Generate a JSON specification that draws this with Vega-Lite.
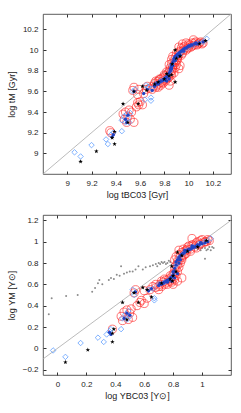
{
  "$schema": "https://vega.github.io/schema/vega-lite/v6.json",
  "padding": {"left": 6, "top": 13, "right": 5, "bottom": 5},
  "spacing": 14,
  "config": {
    "view": {"stroke": "#333", "strokeWidth": 0.8},
    "axis": {"domain": false, "grid": false, "labelFont": "Liberation Sans", "titleFont": "Liberation Sans", "labelFontSize": 8, "titleFontSize": 9, "titleFontWeight": "normal", "tickColor": "#333", "tickSize": -3, "labelPadding": 8, "labelColor": "#222", "titleColor": "#222"}
  },
  "datasets": {
    "t_red": [
      {"x":9.35,"y":9.22},{"x":9.36,"y":9.20},{"x":9.46,"y":9.38},{"x":9.48,"y":9.40},{"x":9.50,"y":9.36},{"x":9.52,"y":9.33},{"x":9.55,"y":9.30},{"x":9.47,"y":9.33},{"x":9.49,"y":9.30},{"x":9.53,"y":9.40},{"x":9.51,"y":9.42},
      {"x":9.57,"y":9.45},{"x":9.59,"y":9.47},{"x":9.60,"y":9.50},{"x":9.62,"y":9.47},{"x":9.58,"y":9.49},
      {"x":9.55,"y":9.64},{"x":9.54,"y":9.61},{"x":9.59,"y":9.62},{"x":9.58,"y":9.57},{"x":9.63,"y":9.58},{"x":9.65,"y":9.62},{"x":9.66,"y":9.65},{"x":9.68,"y":9.63},{"x":9.70,"y":9.62},{"x":9.71,"y":9.65},{"x":9.73,"y":9.64},
      {"x":9.72,"y":9.68},{"x":9.74,"y":9.66},{"x":9.75,"y":9.70},{"x":9.76,"y":9.68},{"x":9.77,"y":9.72},{"x":9.78,"y":9.69},{"x":9.79,"y":9.73},{"x":9.80,"y":9.71},{"x":9.81,"y":9.75},{"x":9.82,"y":9.72},{"x":9.83,"y":9.77},{"x":9.84,"y":9.74},{"x":9.85,"y":9.70},{"x":9.86,"y":9.76},{"x":9.84,"y":9.80},{"x":9.85,"y":9.83},{"x":9.87,"y":9.82},{"x":9.88,"y":9.78},{"x":9.89,"y":9.83},{"x":9.90,"y":9.86},{"x":9.86,"y":9.87},{"x":9.88,"y":9.90},{"x":9.87,"y":9.94},{"x":9.89,"y":9.93},{"x":9.91,"y":9.91},{"x":9.90,"y":9.97},{"x":9.92,"y":9.95},{"x":9.93,"y":9.99},{"x":9.95,"y":9.97},{"x":9.94,"y":10.02},{"x":9.96,"y":10.00},{"x":9.97,"y":10.04},{"x":9.99,"y":10.02},{"x":10.00,"y":10.06},{"x":10.02,"y":10.03},{"x":10.03,"y":10.07},{"x":10.05,"y":10.05},{"x":10.06,"y":10.08},{"x":10.08,"y":10.06},{"x":10.10,"y":10.08},{"x":10.04,"y":10.10},{"x":9.98,"y":10.07},{"x":9.92,"y":10.03},{"x":9.95,"y":10.06},{"x":10.12,"y":10.07},{"x":9.92,"y":9.82},{"x":9.93,"y":9.85},{"x":9.84,"y":9.66},
      {"x":9.73,"y":9.70},{"x":9.76,"y":9.72},{"x":9.79,"y":9.68},{"x":9.81,"y":9.70},{"x":9.83,"y":9.73},{"x":9.85,"y":9.77},{"x":9.86,"y":9.80},{"x":9.87,"y":9.84},{"x":9.88,"y":9.86},{"x":9.89,"y":9.88},{"x":9.90,"y":9.90},{"x":9.91,"y":9.93},{"x":9.92,"y":9.98},{"x":9.94,"y":9.95},{"x":9.96,"y":10.03},{"x":9.98,"y":10.00},{"x":10.00,"y":10.02},{"x":10.01,"y":10.05},{"x":10.03,"y":10.04},{"x":10.05,"y":10.07},{"x":10.07,"y":10.05},{"x":10.09,"y":10.07},{"x":10.11,"y":10.06},{"x":9.86,"y":9.91},{"x":9.84,"y":9.86},{"x":9.82,"y":9.79},{"x":9.80,"y":9.76},{"x":9.77,"y":9.66},{"x":9.75,"y":9.64}
    ],
    "t_dia": [
      {"x":9.06,"y":9.01},{"x":9.11,"y":8.97},{"x":9.20,"y":9.08},{"x":9.32,"y":9.135},{"x":9.335,"y":9.09},{"x":9.36,"y":9.18},{"x":9.38,"y":9.20},{"x":9.45,"y":9.215},{"x":9.45,"y":9.32},{"x":9.47,"y":9.36},{"x":9.49,"y":9.38},{"x":9.50,"y":9.34},{"x":9.51,"y":9.30},{"x":9.48,"y":9.30},{"x":9.52,"y":9.39},{"x":9.54,"y":9.60},{"x":9.56,"y":9.62},{"x":9.64,"y":9.52},{"x":9.69,"y":9.54},{"x":9.69,"y":9.51},{"x":9.65,"y":9.66},{"x":9.67,"y":9.64},{"x":9.70,"y":9.63},{"x":9.73,"y":9.67},
      {"x":9.77,"y":9.70},{"x":9.80,"y":9.72},{"x":9.83,"y":9.75},{"x":9.85,"y":9.80},{"x":9.86,"y":9.85},{"x":9.88,"y":9.90},{"x":9.90,"y":9.94},{"x":9.93,"y":9.97},{"x":9.96,"y":10.00},{"x":10.00,"y":10.03},{"x":10.04,"y":10.05},{"x":10.08,"y":10.07},{"x":10.12,"y":10.08},{"x":10.15,"y":10.11}
    ],
    "t_dot": [
      {"x":9.38,"y":9.18},{"x":9.37,"y":9.16},{"x":9.48,"y":9.33},{"x":9.50,"y":9.37},{"x":9.49,"y":9.30},{"x":9.55,"y":9.60},{"x":9.63,"y":9.58},{"x":9.66,"y":9.62},{"x":9.70,"y":9.61},{"x":9.72,"y":9.65},{"x":9.73,"y":9.67},{"x":9.74,"y":9.68},{"x":9.76,"y":9.69},{"x":9.77,"y":9.70},{"x":9.78,"y":9.70},{"x":9.79,"y":9.71},{"x":9.80,"y":9.72},{"x":9.81,"y":9.73},{"x":9.82,"y":9.74},{"x":9.83,"y":9.76},{"x":9.84,"y":9.78},{"x":9.85,"y":9.80},{"x":9.85,"y":9.82},{"x":9.86,"y":9.84},{"x":9.86,"y":9.86},{"x":9.87,"y":9.88},{"x":9.88,"y":9.90},{"x":9.88,"y":9.92},{"x":9.89,"y":9.94},{"x":9.90,"y":9.95},{"x":9.91,"y":9.96},{"x":9.92,"y":9.97},{"x":9.93,"y":9.98},{"x":9.94,"y":9.99},{"x":9.95,"y":10.00},{"x":9.96,"y":10.01},{"x":9.97,"y":10.02},{"x":9.98,"y":10.02},{"x":9.99,"y":10.03},{"x":10.00,"y":10.04},{"x":10.01,"y":10.04},{"x":10.03,"y":10.05},{"x":10.05,"y":10.06},{"x":10.07,"y":10.06},{"x":10.09,"y":10.07},{"x":10.12,"y":10.08},{"x":9.82,"y":9.70},{"x":9.84,"y":9.72},{"x":9.87,"y":9.85},{"x":9.89,"y":9.90},{"x":9.93,"y":9.95},{"x":9.75,"y":9.67},{"x":9.81,"y":9.71},{"x":9.86,"y":9.82},{"x":9.91,"y":9.94},{"x":9.96,"y":9.99},{"x":10.02,"y":10.05},{"x":10.06,"y":10.07}
    ],
    "t_star": [
      {"x":9.11,"y":8.92},{"x":9.24,"y":9.02},{"x":9.39,"y":9.09},{"x":9.37,"y":9.15},{"x":9.39,"y":9.21},{"x":9.46,"y":9.48},{"x":9.585,"y":9.48},{"x":9.62,"y":9.65},{"x":9.655,"y":9.61},{"x":9.55,"y":9.60},{"x":9.50,"y":9.30},{"x":9.75,"y":9.69},{"x":9.89,"y":10.0},{"x":9.865,"y":9.865},{"x":9.89,"y":9.69},{"x":9.82,"y":9.77},{"x":9.84,"y":9.75},{"x":9.86,"y":9.76},{"x":9.90,"y":9.92},{"x":9.93,"y":9.94},{"x":10.09,"y":10.06},{"x":10.14,"y":10.09},{"x":9.72,"y":9.67},{"x":9.80,"y":9.72}
    ],
    "b_red": [
      {"x":0.38,"y":0.18},{"x":0.44,"y":0.30},{"x":0.46,"y":0.34},{"x":0.48,"y":0.36},{"x":0.50,"y":0.33},{"x":0.49,"y":0.27},{"x":0.52,"y":0.29},{"x":0.45,"y":0.26},{"x":0.51,"y":0.37},
      {"x":0.54,"y":0.55},{"x":0.53,"y":0.52},{"x":0.55,"y":0.40},{"x":0.57,"y":0.43},{"x":0.58,"y":0.45},{"x":0.60,"y":0.42},{"x":0.62,"y":0.47},{"x":0.64,"y":0.55},{"x":0.60,"y":0.54},{"x":0.66,"y":0.58},{"x":0.68,"y":0.57},{"x":0.70,"y":0.55},{"x":0.71,"y":0.60},{"x":0.72,"y":0.58},{"x":0.73,"y":0.62},{"x":0.74,"y":0.60},{"x":0.75,"y":0.64},{"x":0.76,"y":0.62},{"x":0.77,"y":0.65},{"x":0.78,"y":0.63},{"x":0.79,"y":0.67},{"x":0.80,"y":0.60},{"x":0.81,"y":0.64},{"x":0.80,"y":0.70},{"x":0.82,"y":0.68},{"x":0.81,"y":0.74},{"x":0.83,"y":0.72},{"x":0.82,"y":0.78},{"x":0.84,"y":0.76},{"x":0.83,"y":0.82},{"x":0.85,"y":0.80},{"x":0.82,"y":0.86},{"x":0.84,"y":0.88},{"x":0.86,"y":0.85},{"x":0.86,"y":0.90},{"x":0.88,"y":0.88},{"x":0.87,"y":0.93},{"x":0.89,"y":0.92},{"x":0.90,"y":0.95},{"x":0.92,"y":0.93},{"x":0.93,"y":0.97},{"x":0.95,"y":0.95},{"x":0.96,"y":0.99},{"x":0.98,"y":0.97},{"x":0.99,"y":1.01},{"x":1.01,"y":0.99},{"x":1.03,"y":1.00},{"x":1.05,"y":1.01},{"x":0.83,"y":0.63},{"x":0.86,"y":0.66},{"x":0.93,"y":1.03},
      {"x":0.72,"y":0.63},{"x":0.74,"y":0.65},{"x":0.76,"y":0.60},{"x":0.78,"y":0.68},{"x":0.79,"y":0.62},{"x":0.80,"y":0.65},{"x":0.81,"y":0.70},{"x":0.82,"y":0.74},{"x":0.83,"y":0.78},{"x":0.84,"y":0.82},{"x":0.85,"y":0.86},{"x":0.86,"y":0.83},{"x":0.87,"y":0.87},{"x":0.88,"y":0.91},{"x":0.89,"y":0.89},{"x":0.90,"y":0.93},{"x":0.91,"y":0.96},{"x":0.92,"y":0.91},{"x":0.94,"y":0.97},{"x":0.96,"y":0.94},{"x":0.97,"y":1.00},{"x":0.99,"y":0.98},{"x":1.00,"y":1.02},{"x":1.02,"y":1.00},{"x":1.04,"y":1.02},{"x":0.81,"y":0.83},{"x":0.84,"y":0.92},{"x":0.70,"y":0.58},{"x":0.68,"y":0.60}
    ],
    "b_dia": [
      {"x":-0.03,"y":-0.02},{"x":0.055,"y":-0.08},{"x":0.16,"y":0.05},{"x":0.28,"y":0.10},{"x":0.32,"y":0.06},{"x":0.34,"y":0.13},{"x":0.37,"y":0.18},{"x":0.36,"y":0.16},{"x":0.44,"y":0.18},{"x":0.45,"y":0.28},{"x":0.47,"y":0.32},{"x":0.49,"y":0.35},{"x":0.50,"y":0.30},{"x":0.48,"y":0.27},{"x":0.52,"y":0.55},{"x":0.53,"y":0.50},{"x":0.63,"y":0.55},{"x":0.66,"y":0.56},{"x":0.67,"y":0.45},{"x":0.67,"y":0.47},{"x":0.70,"y":0.60},{"x":0.74,"y":0.62},{"x":0.78,"y":0.65},{"x":0.80,"y":0.70},{"x":0.82,"y":0.78},{"x":0.84,"y":0.85},{"x":0.87,"y":0.89},{"x":0.90,"y":0.92},{"x":0.94,"y":0.95},{"x":0.98,"y":0.98},{"x":1.02,"y":1.00},{"x":1.06,"y":1.03}
    ],
    "b_dot": [
      {"x":0.36,"y":0.15},{"x":0.37,"y":0.13},{"x":0.46,"y":0.28},{"x":0.48,"y":0.33},{"x":0.50,"y":0.31},{"x":0.54,"y":0.53},{"x":0.63,"y":0.54},{"x":0.65,"y":0.56},{"x":0.70,"y":0.59},{"x":0.71,"y":0.61},{"x":0.72,"y":0.60},{"x":0.73,"y":0.61},{"x":0.74,"y":0.62},{"x":0.75,"y":0.63},{"x":0.76,"y":0.64},{"x":0.77,"y":0.64},{"x":0.78,"y":0.66},{"x":0.79,"y":0.67},{"x":0.80,"y":0.69},{"x":0.80,"y":0.72},{"x":0.81,"y":0.75},{"x":0.82,"y":0.78},{"x":0.82,"y":0.81},{"x":0.83,"y":0.83},{"x":0.84,"y":0.85},{"x":0.85,"y":0.87},{"x":0.86,"y":0.88},{"x":0.87,"y":0.89},{"x":0.88,"y":0.90},{"x":0.89,"y":0.91},{"x":0.90,"y":0.92},{"x":0.91,"y":0.93},{"x":0.92,"y":0.93},{"x":0.93,"y":0.94},{"x":0.94,"y":0.95},{"x":0.95,"y":0.95},{"x":0.96,"y":0.96},{"x":0.97,"y":0.97},{"x":0.98,"y":0.97},{"x":1.00,"y":0.98},{"x":1.02,"y":0.99},{"x":1.04,"y":1.00},{"x":0.79,"y":0.63},{"x":0.81,"y":0.66},{"x":0.83,"y":0.70},{"x":0.85,"y":0.83},{"x":0.76,"y":0.62},{"x":0.81,"y":0.72},{"x":0.84,"y":0.80},{"x":0.88,"y":0.92},{"x":0.93,"y":0.96},{"x":0.99,"y":0.99}
    ],
    "b_star": [
      {"x":0.055,"y":-0.13},{"x":0.21,"y":-0.015},{"x":0.38,"y":0.14},{"x":0.38,"y":0.06},{"x":0.39,"y":0.18},{"x":0.45,"y":0.43},{"x":0.56,"y":0.43},{"x":0.59,"y":0.57},{"x":0.62,"y":0.55},{"x":0.53,"y":0.52},{"x":0.65,"y":0.48},{"x":0.83,"y":0.90},{"x":0.79,"y":0.77},{"x":0.795,"y":0.63},{"x":0.97,"y":0.95},{"x":1.03,"y":1.01},{"x":0.48,"y":0.27},{"x":0.72,"y":0.61},{"x":0.80,"y":0.68},{"x":0.82,"y":0.72},{"x":0.86,"y":0.87},{"x":0.90,"y":0.91},{"x":0.78,"y":0.65}
    ],
    "b_gray": [
      {"x":-0.06,"y":0.32},{"x":-0.04,"y":0.47},{"x":0.06,"y":0.49},{"x":0.14,"y":0.50},{"x":0.24,"y":0.53},{"x":0.26,"y":0.565},{"x":0.28,"y":0.61},{"x":0.31,"y":0.60},{"x":0.29,"y":0.64},{"x":0.355,"y":0.64},{"x":0.37,"y":0.66},{"x":0.39,"y":0.65},{"x":0.41,"y":0.69},{"x":0.43,"y":0.68},{"x":0.44,"y":0.77},{"x":0.46,"y":0.70},{"x":0.48,"y":0.71},{"x":0.50,"y":0.72},{"x":0.52,"y":0.72},{"x":0.54,"y":0.74},{"x":0.56,"y":0.77},{"x":0.59,"y":0.74},{"x":0.61,"y":0.76},{"x":0.64,"y":0.77},{"x":0.66,"y":0.78},{"x":0.68,"y":0.79},{"x":0.69,"y":0.77},{"x":0.70,"y":0.80},{"x":0.71,"y":0.79},{"x":0.72,"y":0.81},{"x":0.73,"y":0.80},{"x":0.74,"y":0.81},{"x":0.75,"y":0.79},{"x":0.76,"y":0.80},{"x":0.77,"y":0.82},{"x":0.78,"y":0.81},{"x":0.95,"y":0.94},{"x":0.97,"y":0.93},{"x":0.99,"y":0.92},{"x":1.00,"y":0.94},{"x":1.02,"y":0.94},{"x":1.04,"y":0.93},{"x":1.05,"y":0.95},{"x":1.07,"y":0.95},{"x":1.08,"y":0.94},{"x":1.03,"y":0.92},{"x":1.02,"y":0.84},{"x":0.98,"y":0.95},{"x":1.06,"y":0.92}
    ]
  },
  "vconcat": [
    {
      "width": 188, "height": 160,
      "resolve": {"axis": {"x": "independent", "y": "independent"}},
      "layer": [
        {
          "data": {"values": [{"x": 8.8, "y": 8.8, "x2": 10.35, "y2": 10.35}]},
          "mark": {"type": "rule", "color": "#aaaaaa", "strokeWidth": 0.8},
          "encoding": {
            "x": {"field": "x", "type": "quantitative", "scale": {"domain": [8.8, 10.35], "nice": false, "zero": false}, "axis": {"orient": "top", "labels": false, "title": null, "values": [9, 9.2, 9.4, 9.6, 9.8, 10, 10.2]}},
            "y": {"field": "y", "type": "quantitative", "scale": {"domain": [8.8, 10.35], "nice": false, "zero": false}, "axis": {"orient": "right", "labels": false, "title": null, "values": [9, 9.2, 9.4, 9.6, 9.8, 10, 10.2]}},
            "x2": {"field": "x2"}, "y2": {"field": "y2"}
          }
        },
        {
          "data": {"name": "t_red"},
          "mark": {"type": "point", "shape": "circle", "stroke": "#ff2a2a", "strokeWidth": 0.7, "size": 65, "opacity": 0.9},
          "encoding": {
            "x": {"field": "x", "type": "quantitative", "axis": {"orient": "bottom", "title": "log tBC03 [Gyr]", "format": "~g", "values": [9, 9.2, 9.4, 9.6, 9.8, 10, 10.2], "titlePadding": 3}},
            "y": {"field": "y", "type": "quantitative", "axis": {"orient": "left", "title": "log tM [Gyr]", "format": "~g", "values": [9, 9.2, 9.4, 9.6, 9.8, 10, 10.2], "titlePadding": 6}}
          }
        },
        {
          "data": {"name": "t_dia"},
          "mark": {"type": "point", "shape": "diamond", "stroke": "#5f9eff", "strokeWidth": 0.8, "size": 30, "opacity": 1},
          "encoding": {"x": {"field": "x", "type": "quantitative", "axis": null}, "y": {"field": "y", "type": "quantitative", "axis": null}}
        },
        {
          "data": {"name": "t_dot"},
          "mark": {"type": "point", "shape": "circle", "filled": true, "color": "#2244c4", "size": 11, "opacity": 1},
          "encoding": {"x": {"field": "x", "type": "quantitative", "axis": null}, "y": {"field": "y", "type": "quantitative", "axis": null}}
        },
        {
          "data": {"name": "t_star"},
          "mark": {"type": "point", "shape": "M0,-1L0.235,-0.324L0.951,-0.309L0.380,0.124L0.588,0.809L0,0.4L-0.588,0.809L-0.380,0.124L-0.951,-0.309L-0.235,-0.324Z", "filled": true, "color": "#000000", "size": 22, "opacity": 1},
          "encoding": {"x": {"field": "x", "type": "quantitative", "axis": null}, "y": {"field": "y", "type": "quantitative", "axis": null}}
        }
      ]
    },
    {
      "width": 188, "height": 160,
      "resolve": {"axis": {"x": "independent", "y": "independent"}},
      "layer": [
        {
          "data": {"values": [{"x": -0.1, "y": -0.1, "x2": 1.2, "y2": 1.2}]},
          "mark": {"type": "rule", "color": "#aaaaaa", "strokeWidth": 0.8},
          "encoding": {
            "x": {"field": "x", "type": "quantitative", "scale": {"domain": [-0.1, 1.2], "nice": false, "zero": false}, "axis": {"orient": "top", "labels": false, "title": null, "values": [0, 0.2, 0.4, 0.6, 0.8, 1]}},
            "y": {"field": "y", "type": "quantitative", "scale": {"domain": [-0.25, 1.25], "nice": false, "zero": false}, "axis": {"orient": "right", "labels": false, "title": null, "values": [-0.2, 0, 0.2, 0.4, 0.6, 0.8, 1, 1.2]}},
            "x2": {"field": "x2"}, "y2": {"field": "y2"}
          }
        },
        {
          "data": {"name": "b_gray"},
          "mark": {"type": "point", "shape": "circle", "filled": true, "color": "#8c8c8c", "size": 4, "opacity": 1},
          "encoding": {"x": {"field": "x", "type": "quantitative", "axis": null}, "y": {"field": "y", "type": "quantitative", "axis": null}}
        },
        {
          "data": {"name": "b_red"},
          "mark": {"type": "point", "shape": "circle", "stroke": "#ff2a2a", "strokeWidth": 0.7, "size": 65, "opacity": 0.9},
          "encoding": {
            "x": {"field": "x", "type": "quantitative", "axis": {"orient": "bottom", "title": "log ΥBC03 [Υ⊙]", "format": "~g", "values": [0, 0.2, 0.4, 0.6, 0.8, 1], "titlePadding": 3}},
            "y": {"field": "y", "type": "quantitative", "axis": {"orient": "left", "title": "log ΥM [Υ⊙]", "format": "~g", "values": [-0.2, 0, 0.2, 0.4, 0.6, 0.8, 1, 1.2], "titlePadding": 6}}
          }
        },
        {
          "data": {"name": "b_dia"},
          "mark": {"type": "point", "shape": "diamond", "stroke": "#5f9eff", "strokeWidth": 0.8, "size": 30, "opacity": 1},
          "encoding": {"x": {"field": "x", "type": "quantitative", "axis": null}, "y": {"field": "y", "type": "quantitative", "axis": null}}
        },
        {
          "data": {"name": "b_dot"},
          "mark": {"type": "point", "shape": "circle", "filled": true, "color": "#2244c4", "size": 11, "opacity": 1},
          "encoding": {"x": {"field": "x", "type": "quantitative", "axis": null}, "y": {"field": "y", "type": "quantitative", "axis": null}}
        },
        {
          "data": {"name": "b_star"},
          "mark": {"type": "point", "shape": "M0,-1L0.235,-0.324L0.951,-0.309L0.380,0.124L0.588,0.809L0,0.4L-0.588,0.809L-0.380,0.124L-0.951,-0.309L-0.235,-0.324Z", "filled": true, "color": "#000000", "size": 22, "opacity": 1},
          "encoding": {"x": {"field": "x", "type": "quantitative", "axis": null}, "y": {"field": "y", "type": "quantitative", "axis": null}}
        }
      ]
    }
  ]
}
